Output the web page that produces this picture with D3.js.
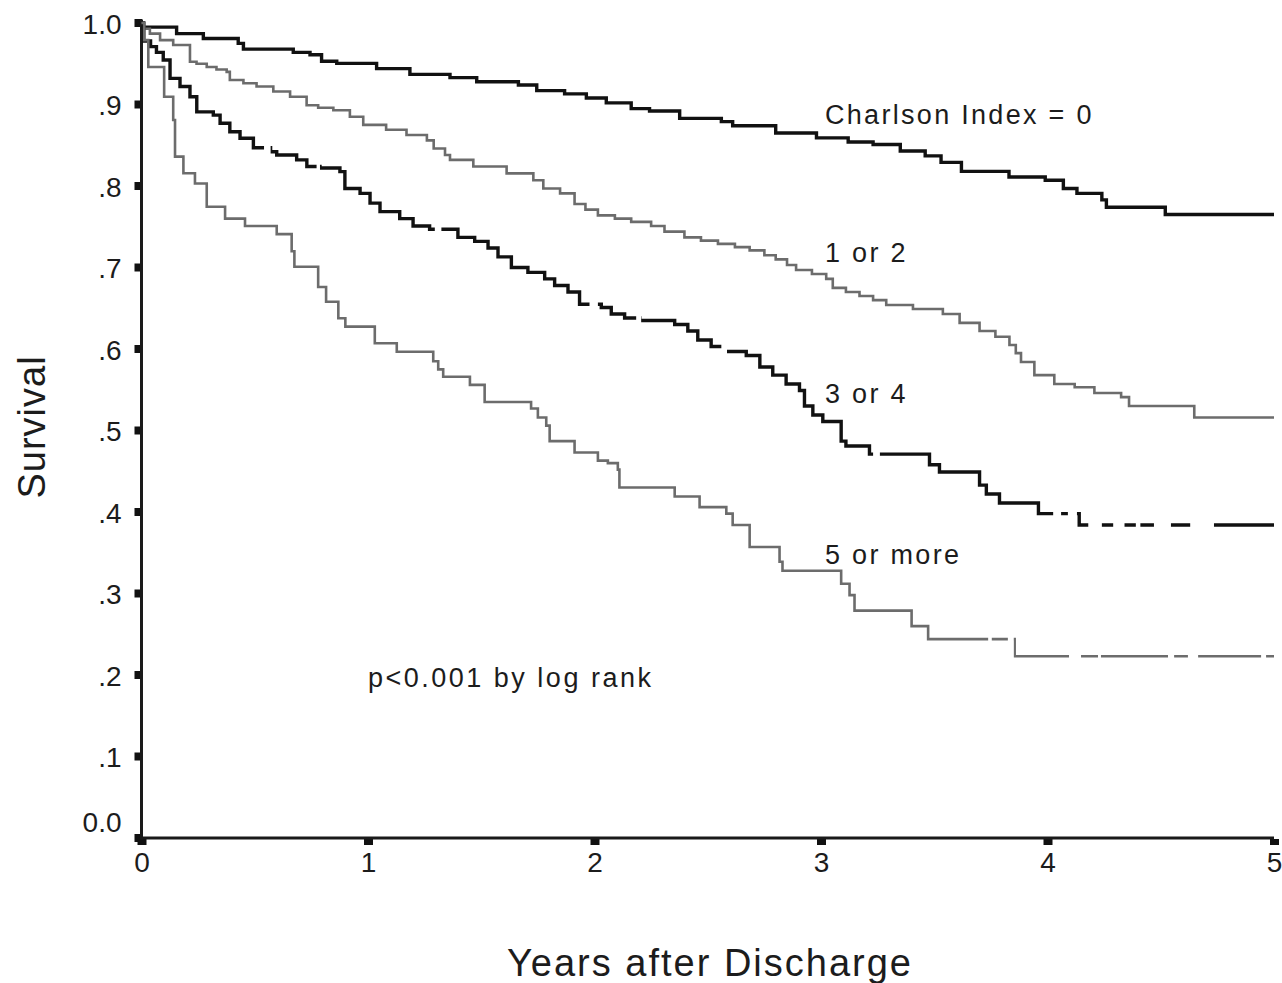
<!DOCTYPE html>
<html>
<head>
<meta charset="utf-8">
<script src="https://cdn.jsdelivr.net/npm/d3@7"></script>
<style>
  body { margin: 0; background: #fff; }
  svg text { font-family: "Liberation Sans", Arial, Helvetica, sans-serif; fill: #1c1c1c; }
</style>
</head>
<body>
<svg id="chart" width="1282" height="983"></svg>
<script>
// Kaplan-Meier survival after discharge by Charlson index

const yearTicks = [0, 1, 2, 3, 4, 5];
const survivalTicks = [0, 0.1, 0.2, 0.3, 0.4, 0.5, 0.6, 0.7, 0.8, 0.9, 1.0];
const survivalTickLabels = ["0.0", ".1", ".2", ".3", ".4", ".5", ".6", ".7", ".8", ".9", "1.0"];
const groupNames = ["Charlson Index = 0", "1 or 2", "3 or 4", "5 or more"];

// step times (years) and survival after each step
const timesIdx0 = [0, 0.155, 0.273, 0.427, 0.45, 0.67, 0.744, 0.795, 0.862, 1.038, 1.185, 1.362, 1.48, 1.664, 1.745,
  1.868, 1.964, 2.052, 2.162, 2.243, 2.376, 2.56, 2.61, 2.80, 2.98, 3.12, 3.23, 3.35, 3.46, 3.53, 3.62, 3.83, 3.99,
  4.07, 4.13, 4.24, 4.26, 4.52, 5.0];
const survIdx0 = [0.995, 0.987, 0.981, 0.975, 0.968, 0.964, 0.961, 0.953, 0.9505, 0.944, 0.937, 0.933, 0.928, 0.924, 0.917,
  0.913, 0.908, 0.902, 0.895, 0.892, 0.883, 0.879, 0.874, 0.865, 0.859, 0.854, 0.851, 0.843, 0.837, 0.829, 0.818, 0.811, 0.807,
  0.797, 0.791, 0.783, 0.774, 0.765, 0.765];

const timesIdx12 = [0, 0.01, 0.037, 0.082, 0.14, 0.214, 0.243, 0.288, 0.331, 0.376, 0.39, 0.45, 0.508, 0.582, 0.656,
  0.729, 0.78, 0.847, 0.92, 0.979, 1.08, 1.17, 1.26, 1.29, 1.34, 1.362, 1.465, 1.612, 1.73, 1.774, 1.848, 1.912, 1.96,
  2.015, 2.09, 2.162, 2.25, 2.309, 2.397, 2.47, 2.545, 2.62, 2.685, 2.75,
  2.80, 2.85, 2.89, 2.96, 3.023, 3.052, 3.11, 3.17, 3.23, 3.288, 3.406, 3.538, 3.612, 3.70, 3.77, 3.832, 3.86, 3.883, 3.942,
  4.03, 4.12, 4.207, 4.325, 4.36, 4.648, 5.0];
const survIdx12 = [1.0, 0.993, 0.987, 0.979, 0.973, 0.9525, 0.95, 0.946, 0.943, 0.940, 0.930, 0.926, 0.922, 0.916, 0.9096,
  0.899, 0.896, 0.893, 0.885, 0.875, 0.869, 0.8626, 0.856, 0.846, 0.838, 0.832, 0.824, 0.8155, 0.807, 0.797, 0.791, 0.778, 0.771,
  0.764, 0.76, 0.756, 0.751, 0.744, 0.737, 0.733, 0.729, 0.725, 0.721, 0.715,
  0.71, 0.703, 0.697, 0.692, 0.686, 0.675, 0.67, 0.665, 0.66, 0.654, 0.649, 0.643, 0.632, 0.622, 0.615, 0.605, 0.595, 0.584, 0.568,
  0.557, 0.553, 0.546, 0.541, 0.530, 0.516, 0.516];

const timesIdx34 = [0, 0.01, 0.04, 0.066, 0.096, 0.126, 0.17, 0.214, 0.244, 0.317, 0.347, 0.39, 0.435, 0.494, 0.57, 0.597,
  0.685, 0.73, 0.788, 0.876, 0.898, 0.965, 1.009, 1.053, 1.14, 1.199, 1.272, 1.397, 1.471, 1.53, 1.574, 1.633, 1.706, 1.78, 1.824,
  1.883, 1.934, 2.03, 2.074, 2.133, 2.2, 2.354, 2.412, 2.456, 2.515, 2.574, 2.67, 2.73, 2.787, 2.846, 2.905, 2.927, 2.964, 3.008,
  3.089, 3.11, 3.214, 3.479, 3.523, 3.70, 3.73, 3.788, 3.96, 4.14, 5.0];
const survIdx34 = [1.0, 0.978, 0.971, 0.964, 0.9546, 0.932, 0.922, 0.9096, 0.891, 0.887, 0.877, 0.8666, 0.8585, 0.847, 0.842, 0.838,
  0.832, 0.824, 0.822, 0.8176, 0.797, 0.791, 0.779, 0.7685, 0.760, 0.751, 0.747, 0.737, 0.732, 0.724, 0.713, 0.70, 0.694, 0.686, 0.678,
  0.67, 0.655, 0.651, 0.643, 0.638, 0.635, 0.630, 0.622, 0.611, 0.603, 0.597, 0.592, 0.578, 0.568, 0.557, 0.549, 0.53, 0.519, 0.511,
  0.487, 0.481, 0.471, 0.458, 0.449, 0.433, 0.422, 0.411, 0.398, 0.384, 0.384];

const timesIdx5 = [0, 0.012, 0.03, 0.1, 0.14, 0.148, 0.185, 0.236, 0.288, 0.369, 0.457, 0.597, 0.663, 0.675, 0.78, 0.815,
  0.869, 0.9, 1.03, 1.127, 1.288, 1.31, 1.332, 1.45, 1.515, 1.72, 1.75, 1.787, 1.802, 1.912, 2.015, 2.059, 2.103, 2.11, 2.354,
  2.464, 2.582, 2.61, 2.685, 2.817, 2.83, 3.089, 3.126, 3.148, 3.40, 3.473, 3.855, 5.0];
const survIdx5 = [1.0, 0.979, 0.946, 0.9096, 0.881, 0.836, 0.8156, 0.803, 0.7746, 0.760, 0.751, 0.741, 0.72, 0.701, 0.676, 0.658,
  0.6377, 0.6274, 0.607, 0.5967, 0.585, 0.575, 0.566, 0.556, 0.535, 0.527, 0.516, 0.506, 0.487, 0.473, 0.463, 0.46, 0.452, 0.43, 0.419,
  0.406, 0.398, 0.384, 0.357, 0.339, 0.328, 0.312, 0.298, 0.279, 0.26, 0.244, 0.223, 0.223];

// breaks in the printed curves (years)
const gapsIdx34 = [[0.541, 0.57], [0.773, 0.788], [1.295, 1.324], [1.978, 2.015], [2.184, 2.206], [2.56, 2.585],
  [3.23, 3.26], [4.025, 4.06], [4.09, 4.13], [4.18, 4.24], [4.29, 4.34], [4.39, 4.41], [4.47, 4.545], [4.63, 4.735]];
const gapsIdx5 = [[3.738, 3.754], [3.825, 3.851], [4.095, 4.148], [4.223, 4.236], [4.532, 4.559], [4.62, 4.665], [4.943, 4.965]];

class SurvivalChart {
  constructor() {
    this.width = 1282;
    this.height = 983;
    this.x = d3.scaleLinear().domain([0, 5]).range([141.5, 1274]);
    this.y = d3.scaleLinear().domain([0, 1]).range([838, 23]);
  }

  init() {
    this.svg = d3.select("#chart");
    this.defs = this.svg.append("defs");
    this.series = [
      { name: groupNames[0], times: timesIdx0, surv: survIdx0, color: "#111", width: 3.4, gaps: [] },
      { name: groupNames[1], times: timesIdx12, surv: survIdx12, color: "#6c6c6c", width: 2.6, gaps: [] },
      { name: groupNames[2], times: timesIdx34, surv: survIdx34, color: "#111", width: 3.4, gaps: gapsIdx34 },
      { name: groupNames[3], times: timesIdx5, surv: survIdx5, color: "#6c6c6c", width: 2.6, gaps: gapsIdx5 }
    ];
  }

  draw() {
    this.drawAxes();
    this.drawCurves();
    this.drawLabels();
  }

  drawAxes() {
    const svg = this.svg, x = this.x, y = this.y;

    const yAxis = svg.append("g")
      .attr("transform", "translate(" + x(0) + ",0)")
      .call(d3.axisLeft(y).tickValues(survivalTicks).tickSize(0).tickSizeOuter(0).tickPadding(20)
        .tickFormat((d, i) => survivalTickLabels[i]));
    yAxis.select(".domain").remove();
    yAxis.selectAll("text")
      .style("font-size", "28px")
      .attr("dy", (d) => d === 0 ? "-0.22em" : "0.36em");

    const xAxis = svg.append("g")
      .attr("transform", "translate(0," + y(0) + ")")
      .call(d3.axisBottom(x).tickValues(yearTicks).tickSize(0).tickSizeOuter(0).tickPadding(14)
        .tickFormat(d3.format("d")));
    xAxis.select(".domain").remove();
    xAxis.selectAll("text").style("font-size", "28px");

    // tick squares
    svg.append("g").selectAll("rect")
      .data(survivalTicks).join("rect")
      .attr("x", x(0) - 7)
      .attr("y", (d) => y(d) - 4)
      .attr("width", 8)
      .attr("height", 8)
      .attr("fill", "#111");
    svg.append("g").selectAll("rect")
      .data(yearTicks).join("rect")
      .attr("x", (d) => x(d) - 4)
      .attr("y", y(0) + 1)
      .attr("width", 9)
      .attr("height", 6)
      .attr("fill", "#111");

    svg.append("line")
      .attr("x1", x(0)).attr("x2", x(0))
      .attr("y1", y(1) - 3).attr("y2", y(0) + 1.5)
      .attr("stroke", "#1a1a1a").attr("stroke-width", 3);
    svg.append("line")
      .attr("x1", x(0) - 1.5).attr("x2", x(5))
      .attr("y1", y(0)).attr("y2", y(0))
      .attr("stroke", "#1a1a1a").attr("stroke-width", 3);
  }

  drawCurves() {
    const x = this.x, y = this.y;
    const line = d3.line()
      .x((d) => x(d[0]))
      .y((d) => y(d[1]))
      .curve(d3.curveStepAfter);

    this.series.forEach((s, i) => {
      const pts = s.times.map((t, k) => [t, s.surv[k]]);
      const path = this.svg.append("path")
        .attr("d", line(pts))
        .attr("fill", "none")
        .attr("stroke", s.color)
        .attr("stroke-width", s.width)
        .attr("stroke-linejoin", "miter")
        .attr("stroke-linecap", "butt");

      if (s.gaps.length) {
        // hide the breaks of the printed curve
        const mask = this.defs.append("mask")
          .attr("id", "gaps" + i)
          .attr("maskUnits", "userSpaceOnUse")
          .attr("x", 0).attr("y", 0)
          .attr("width", this.width).attr("height", this.height);
        mask.append("rect")
          .attr("width", this.width).attr("height", this.height)
          .attr("fill", "#fff");
        mask.selectAll("rect.gap")
          .data(s.gaps).join("rect")
          .attr("class", "gap")
          .attr("x", (d) => x(d[0]))
          .attr("width", (d) => x(d[1]) - x(d[0]))
          .attr("y", 0).attr("height", this.height)
          .attr("fill", "#000");
        path.attr("mask", "url(#gaps" + i + ")");
      }
    });
  }

  drawLabels() {
    const svg = this.svg;
    const labelY = [124, 262, 403, 564];
    groupNames.forEach((name, i) => {
      svg.append("text")
        .attr("x", 825)
        .attr("y", labelY[i])
        .text(name)
        .style("font-size", "27px")
        .style("letter-spacing", "2.3px");
    });

    svg.append("text")
      .attr("x", 368)
      .attr("y", 687)
      .text("p<0.001 by log rank")
      .style("font-size", "27px")
      .style("letter-spacing", "2.5px");

    svg.append("text")
      .attr("transform", "translate(45,427) rotate(-90)")
      .attr("text-anchor", "middle")
      .text("Survival")
      .style("font-size", "38px")
      .style("letter-spacing", "1px");

    svg.append("text")
      .attr("x", 710)
      .attr("y", 976)
      .attr("text-anchor", "middle")
      .text("Years after Discharge")
      .style("font-size", "38px")
      .style("letter-spacing", "2px");
  }
}

const chart = new SurvivalChart();
chart.init();
chart.draw();
</script>
</body>
</html>
